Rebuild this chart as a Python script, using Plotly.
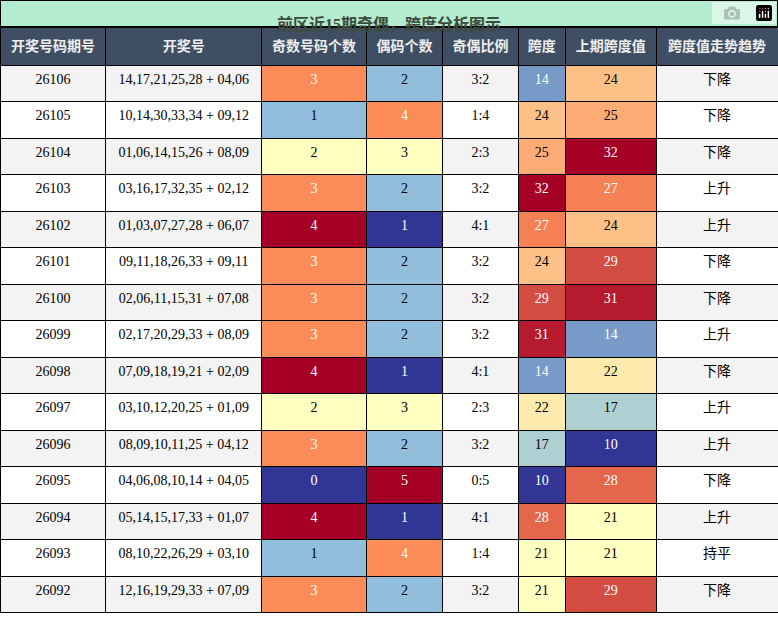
import plotly.graph_objects as go
from plotly.colors import sample_colorscale

periods = ["26106","26105","26104","26103","26102","26101","26100","26099","26098","26097","26096","26095","26094","26093","26092"]
draws = ["14,17,21,25,28 + 04,06","10,14,30,33,34 + 09,12","01,06,14,15,26 + 08,09","03,16,17,32,35 + 02,12",
         "01,03,07,27,28 + 06,07","09,11,18,26,33 + 09,11","02,06,11,15,31 + 07,08","02,17,20,29,33 + 08,09",
         "07,09,18,19,21 + 02,09","03,10,12,20,25 + 01,09","08,09,10,11,25 + 04,12","04,06,08,10,14 + 04,05",
         "05,14,15,17,33 + 01,07","08,10,22,26,29 + 03,10","12,16,19,29,33 + 07,09"]
odd_counts = [3,1,2,3,4,3,3,3,4,2,3,0,4,1,3]
even_counts = [2,4,3,2,1,2,2,2,1,3,2,5,1,4,2]
ratios = ["3:2","1:4","2:3","3:2","4:1","3:2","3:2","3:2","4:1","2:3","3:2","0:5","4:1","1:4","3:2"]
spans = [14,24,25,32,27,24,29,31,14,22,17,10,28,21,21]
prev_spans = [24,25,32,27,24,29,31,14,22,17,10,28,21,21,29]
trends = ["下降","下降","下降","上升","上升","下降","下降","上升","下降","上升","上升","下降","上升","持平","下降"]
headers = ["开奖号码期号","开奖号","奇数号码个数","偶码个数","奇偶比例","跨度","上期跨度值","跨度值走势趋势"]
title = "前区近15期奇偶，跨度分析图示"

cs = [[0,'#313695'],[0.25,'#91bfdb'],[0.5,'#ffffbf'],[0.75,'#fc8d59'],[1,'#a50026']]

def norm(vals, lo, hi):
    return [(v - lo) / (hi - lo) for v in vals]

def colors(ns):
    return sample_colorscale(cs, ns)

def tcolors(ns):
    return ['white' if (n > 0.7 or n < 0.22) else 'black' for n in ns]

n_odd = norm(odd_counts, 0, 4)
n_even = norm(even_counts, 1, 5)
lo = min(spans + prev_spans); hi = max(spans + prev_spans)
n_span = norm(spans, lo, hi)
n_prev = norm(prev_spans, lo, hi)

alt = ['#f3f3f3' if i % 2 == 0 else 'white' for i in range(len(periods))]
fill = [alt, alt, colors(n_odd), colors(n_even), alt, colors(n_span), colors(n_prev), alt]
blk = ['black'] * len(periods)
fcol = [blk, blk, tcolors(n_odd), tcolors(n_even), blk, tcolors(n_span), tcolors(n_prev), blk]

FONT = "Liberation Serif, Noto Sans CJK SC"
widths = [106,156,105,76,76,47,91,122]
TOP = 27 / 620

fig = go.Figure()
fig.add_trace(go.Table(
    domain=dict(x=[0, 1], y=[0, 1 - TOP]),
    columnwidth=widths,
    header=dict(values=[f"<b>{h}</b>" for h in headers], fill_color='#3f4e62',
                line=dict(color='black', width=1),
                font=dict(family="Noto Sans CJK SC", size=14, color='#eeeeee'), height=38, align='center'),
    cells=dict(values=[periods, draws, [str(v) for v in odd_counts], [str(v) for v in even_counts],
                       ratios, [str(v) for v in spans], [str(v) for v in prev_spans], trends],
               fill=dict(color=fill), line=dict(color='black', width=1),
               font=dict(family=FONT, size=14, color=fcol), height=36.5, align='center')
))
fig.add_shape(type='rect', xref='paper', yref='paper', x0=0, x1=1, y0=1 - TOP, y1=1,
              fillcolor='#b3ecce', line=dict(color='black', width=2), layer='below')
fig.add_annotation(text=f"<b>{title}</b>", xref='paper', yref='paper', x=0.5, y=1 - TOP / 2,
                   showarrow=False, font=dict(family=FONT, size=16, color='#3d4b3d'))
fig.update_layout(width=778, height=620, margin=dict(l=0, r=0, t=0, b=0), paper_bgcolor='white')
fig.write_html("out.html", post_script="document.body.style.margin='0';")
